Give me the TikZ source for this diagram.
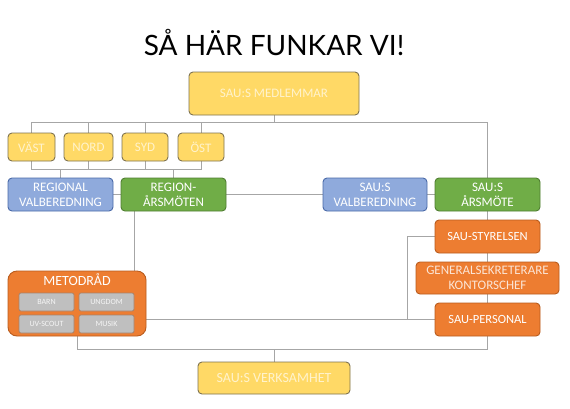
\documentclass[tikz,border=0pt]{standalone}
\usepackage{fontspec}
\setmainfont{Carlito}
\newfontfamily\titlefont{Lato}
\usetikzlibrary{backgrounds}
\definecolor{ylfill}{HTML}{FFD966}
\definecolor{ylborder}{HTML}{7F7350}
\definecolor{yltext}{HTML}{FFF3CC}
\definecolor{blfill}{HTML}{8FAADC}
\definecolor{blborder}{HTML}{4A6AA8}
\definecolor{grfill}{HTML}{70AD47}
\definecolor{grborder}{HTML}{507E32}
\definecolor{orfill}{HTML}{ED7D31}
\definecolor{orborder}{HTML}{B95C1E}
\definecolor{gyfill}{HTML}{BFBFBF}
\definecolor{gyborder}{HTML}{A6826A}
\definecolor{linecol}{HTML}{A6A6A6}
\definecolor{gentext}{HTML}{FBE5D6}
\tikzset{
  box/.style={draw, line width=0.9pt, rounded corners=4pt, inner sep=0pt, align=center},
  ybox/.style={box, fill=ylfill, draw=ylborder, text=yltext},
  bbox/.style={box, fill=blfill, draw=blborder, text=white},
  gbox/.style={box, fill=grfill, draw=grborder, text=white},
  obox/.style={box, fill=orfill, draw=orborder, text=white},
  sbox/.style={box, fill=gyfill, draw=gyborder, text=white!92!gray, line width=0.7pt, rounded corners=2pt, minimum width=55pt, minimum height=18pt, font=\fontsize{8}{9}\selectfont},
  conn/.style={draw=linecol, line width=0.6pt},
  f13/.style={font=\fontsize{13}{15}\selectfont},
  f12/.style={font=\fontsize{12.5}{14.5}\selectfont}
}
\begin{document}
\begin{tikzpicture}[x=1pt,y=-1pt]
\useasboundingbox (0,0) rectangle (570,408);
\node[font=\titlefont\fontsize{28}{30}\selectfont, inner sep=0pt] (title) at (274,42) {SÅ HÄR FUNKAR VI!};
\node[ybox, f13, minimum width=170pt, minimum height=43pt] (med) at (274,93.5) {SAU:S MEDLEMMAR};
\node[ybox, f13, minimum width=47pt, minimum height=28pt] (vast) at (31.5,147) {VÄST};
\node[ybox, f13, minimum width=49pt, minimum height=28pt] (nord) at (88.5,147) {NORD};
\node[ybox, f13, minimum width=46pt, minimum height=28pt] (syd) at (145,147) {SYD};
\node[ybox, f13, minimum width=46pt, minimum height=28pt] (ost) at (201,147) {ÖST};
\node[bbox, f13, minimum width=105pt, minimum height=33pt] (regval) at (60.5,194.5) {REGIONAL\\VALBEREDNING};
\node[gbox, f13, minimum width=105pt, minimum height=33pt] (regarsm) at (173.5,194.5) {REGION-\\ÅRSMÖTEN};
\node[bbox, f13, minimum width=104pt, minimum height=33pt] (sval) at (375,194.5) {SAU:S\\VALBEREDNING};
\node[gbox, f13, minimum width=105pt, minimum height=33pt] (sarsm) at (487.5,194.5) {SAU:S\\ÅRSMÖTE};
\node[obox, f12, minimum width=105pt, minimum height=33pt] (styr) at (487.5,236.5) {SAU-STYRELSEN};
\node[obox, font=\fontsize{13}{15}\selectfont, text=gentext, minimum width=143pt, minimum height=32pt] (gen) at (487.5,278) {GENERALSEKRETERARE\\KONTORSCHEF};
\node[obox, f12, minimum width=105pt, minimum height=33pt] (pers) at (487.5,319.5) {SAU-PERSONAL};
\node[obox, rounded corners=9pt, minimum width=138pt, minimum height=65pt] (metod) at (77,303.5) {};
\node[text=white, font=\fontsize{14}{16}\selectfont, inner sep=0pt] (metodt) at (77,280) {METODRÅD};
\node[sbox] (barn) at (46.5,302) {BARN};
\node[sbox] (ungdom) at (106.5,302) {UNGDOM};
\node[sbox] (uv) at (46.5,324) {UV-SCOUT};
\node[sbox] (musik) at (106.5,324) {MUSIK};
\node[ybox, font=\fontsize{14}{16}\selectfont, minimum width=152pt, minimum height=32pt] (verk) at (274,378) {SAU:S VERKSAMHET};
\coordinate (bus1) at (0,122);
\coordinate (bus2) at (0,169);
\coordinate (bus3) at (0,349);
\coordinate (kx) at (407,0);
\coordinate (mx) at (134,0);
\begin{scope}[on background layer]
\fill[white] (0,0) rectangle (570,408);
\draw[conn] (med.south) -- (med.south |- bus1);
\draw[conn] (vast.north) -- (vast.north |- bus1) -- (sarsm.north |- bus1) -- (pers.south |- bus3);
\draw[conn] (nord.north) -- (nord.north |- bus1);
\draw[conn] (syd.north) -- (syd.north |- bus1);
\draw[conn] (ost.north) -- (ost.north |- bus1);
\draw[conn] (vast.south) -- (vast.south |- bus2) -- (ost.south |- bus2) -- (ost.south);
\draw[conn] (nord.south) -- (nord.south |- bus2);
\draw[conn] (syd.south) -- (syd.south |- bus2);
\draw[conn] (regval.north) -- (regval.north |- bus2);
\draw[conn] (regarsm.north) -- (regarsm.north |- bus2);
\draw[conn] (regval.east) -- (regarsm.west);
\draw[conn] (regarsm.east) -- (sval.west);
\draw[conn] (sval.east) -- (sarsm.west);
\draw[conn] (regarsm.south -| mx) -- (metod.north -| mx);
\draw[conn] (metod.east |- pers.west) -- (pers.west);
\draw[conn] (styr.west) -- (styr.west -| kx) -- (pers.west -| kx);
\draw[conn] (metod.south) -- (metod.south |- bus3) -- (pers.south |- bus3);
\draw[conn] (verk.north) -- (verk.north |- bus3);
\end{scope}
\end{tikzpicture}
\end{document}
